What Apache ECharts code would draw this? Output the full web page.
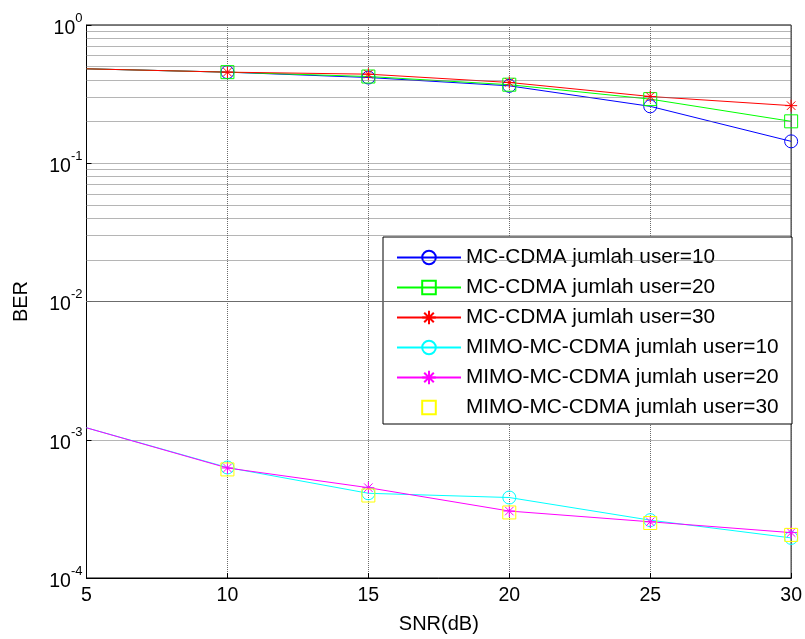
<!DOCTYPE html>
<html>
<head>
<meta charset="utf-8">
<script src="https://cdn.jsdelivr.net/npm/echarts@6/dist/echarts.min.js"></script>
<style>
html,body{margin:0;padding:0;background:#fff;}
#chart{width:805px;height:639px;}
</style>
</head>
<body>
<div id="chart"></div>
<script>
// ---- data ----
const snr = [5, 10, 15, 20, 25, 30];
const mcUser10 = [0.482, 0.456, 0.417, 0.363, 0.258, 0.144];
const mcUser20 = [0.482, 0.456, 0.424, 0.370, 0.291, 0.201];
const mcUser30 = [0.482, 0.456, 0.441, 0.384, 0.304, 0.261];
const mimoUser10 = [1.22e-3, 6.3e-4, 4.1e-4, 3.82e-4, 2.62e-4, 1.95e-4];
const mimoUser20 = [1.22e-3, 6.25e-4, 4.5e-4, 3.05e-4, 2.55e-4, 2.13e-4];
const mimoUser30 = [null, 6.1e-4, 3.95e-4, 2.98e-4, 2.5e-4, 2.05e-4];
const seriesNames = [
  'MC-CDMA jumlah user=10',
  'MC-CDMA jumlah user=20',
  'MC-CDMA jumlah user=30',
  'MIMO-MC-CDMA jumlah user=10',
  'MIMO-MC-CDMA jumlah user=20',
  'MIMO-MC-CDMA jumlah user=30'
];
const xTicks = [5, 10, 15, 20, 25, 30];
const yDecades = [1e-4, 1e-3, 1e-2, 1e-1, 1];
const minorMultipliers = [2, 3, 4, 5, 6, 7, 8, 9];

// ---- helpers ----
const FONT = "'Liberation Sans', Arial, Helvetica, sans-serif";
const STAR = 'path://M0,-10L0,10M-10,0L10,0M-7.07,-7.07L7.07,7.07M-7.07,7.07L7.07,-7.07';

function pts(vals) {
  return snr.map((x, i) => {
    if (vals[i] === null) return null;
    // the reference shows no marker at the left border x=5
    if (x === 5) return { value: [x, vals[i]], symbol: 'none' };
    return [x, vals[i]];
  }).filter(p => p !== null);
}

function mk(name, vals, color, symbol, size, showLine) {
  return {
    name: name,
    type: 'line',
    data: pts(vals),
    symbol: symbol,
    symbolSize: size,
    showSymbol: true,
    z: 3,
    lineStyle: { color: color, width: 1, opacity: showLine ? 1 : 0 },
    itemStyle: { color: 'rgba(0,0,0,0)', borderColor: color, borderWidth: 1 },
    emphasis: { disabled: true },
    animation: false
  };
}

const minorGridValues = [];
yDecades.slice(0, -1).forEach(d => minorMultipliers.forEach(m => minorGridValues.push(m * d)));

const gridSeries = {
  name: '__grid',
  type: 'line',
  data: [],
  z: 1,
  silent: true,
  markLine: {
    silent: true,
    symbol: ['none', 'none'],
    label: { show: false },
    animation: false,
    lineStyle: { color: '#6a6a6a', type: [1, 1], width: 1 },
    data: minorGridValues.map(v => ({ yAxis: v }))
  }
};

const chart = echarts.init(document.getElementById('chart'), null, { renderer: 'canvas' });
chart.setOption({
  backgroundColor: '#fff',
  animation: false,
  textStyle: { fontFamily: FONT },
  grid: {
    left: 86.5, right: 13.5, top: 25, bottom: 59,
    show: true, borderColor: '#000', borderWidth: 1, backgroundColor: '#fff'
  },
  xAxis: {
    type: 'value',
    min: 5, max: 30, interval: 5,
    name: 'SNR(dB)', nameLocation: 'middle', nameGap: 36,
    nameTextStyle: { fontSize: 20, color: '#000', fontFamily: FONT },
    axisLine: { show: true, onZero: false, lineStyle: { color: '#000', width: 1 } },
    axisTick: { show: true, inside: true, length: 5, lineStyle: { color: '#000' } },
    axisLabel: {
      fontSize: 19.5, color: '#000', fontFamily: FONT, margin: 8,
      formatter: v => (xTicks.indexOf(v) >= 0 ? String(v) : '')
    },
    splitLine: { show: true, lineStyle: { color: '#6a6a6a', type: [1, 1], width: 1 } }
  },
  yAxis: {
    type: 'log', logBase: 10, min: 1e-4, max: 1,
    name: 'BER', nameLocation: 'middle', nameGap: 55, nameRotate: 90,
    nameTextStyle: { fontSize: 20, color: '#000', fontFamily: FONT },
    axisLine: { show: true, lineStyle: { color: '#000', width: 1 } },
    axisTick: { show: true, inside: true, length: 5, lineStyle: { color: '#000' } },
    axisLabel: {
      color: '#000', fontFamily: FONT, margin: 4,
      formatter: function (v) {
        const e = Math.round(Math.log10(v));
        return '{b|10}{e|' + e + '}';
      },
      rich: {
        b: { fontSize: 19.5, fontFamily: FONT, color: '#000', verticalAlign: 'bottom', padding: [4, 0, 0, 0] },
        e: { fontSize: 13, fontFamily: FONT, color: '#000', verticalAlign: 'bottom', padding: [0, 0, 14, 0] }
      }
    },
    splitLine: { show: true, lineStyle: { color: '#6a6a6a', type: [1, 1], width: 1 } }
  },
  legend: {
    data: seriesNames,
    orient: 'vertical',
    left: 383, top: 237,
    padding: [10, 10, 6, 13],
    itemWidth: 64, itemHeight: 17, itemGap: 9,
    itemTextGap: 7,
    backgroundColor: '#fff',
    borderColor: '#000', borderWidth: 1,
    selectedMode: false,
    textStyle: { fontSize: 20.8, color: '#000', fontFamily: FONT, width: 316, lineHeight: 21 }
  },
  series: [
    gridSeries,
    mk(seriesNames[0], mcUser10, '#0000ff', 'circle', 13, true),
    mk(seriesNames[1], mcUser20, '#00ff00', 'rect', 13, true),
    mk(seriesNames[2], mcUser30, '#ff0000', STAR, 12, true),
    mk(seriesNames[3], mimoUser10, '#00ffff', 'circle', 13, true),
    mk(seriesNames[4], mimoUser20, '#ff00ff', STAR, 12, true),
    mk(seriesNames[5], mimoUser30, '#ffff00', 'rect', 13, false)
  ]
});
</script>
</body>
</html>
